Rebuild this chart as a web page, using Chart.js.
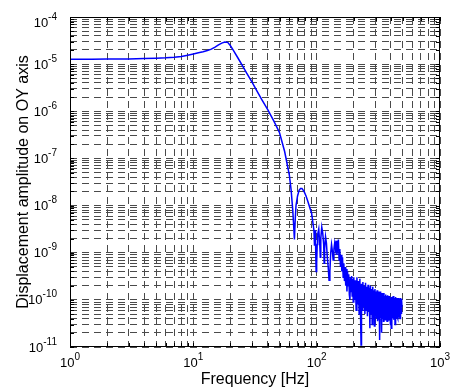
<!DOCTYPE html>
<html>
<head>
<meta charset="utf-8">
<script src="https://cdn.jsdelivr.net/npm/chart.js@4/dist/chart.umd.min.js"></script>
<style>
  html, body { margin: 0; padding: 0; background: #fff; }
  #wrap { width: 450px; height: 387px; }
</style>
</head>
<body>
<div id="wrap"><canvas id="chart" width="450" height="387"></canvas></div>
<script>
// ─── Data ──────────────────────────────────────────────────
const freqHz = [
  1, 1.5, 2, 3, 4, 5, 6, 7, 8, 9,
  10, 11, 12, 13, 14, 15, 16, 17, 18, 19,
  20, 21, 23, 25, 27, 30, 33, 36, 40, 45,
  50, 55, 58, 60, 62, 64, 65, 66, 67, 68,
  70, 72, 74, 76, 79, 82, 85, 88, 91, 93,
  95, 96, 97, 98, 99, 100, 101, 102, 104, 106,
  107, 108, 110, 112, 114, 115, 116, 118, 120, 122,
  124, 126, 128, 130, 132, 134, 136, 138, 140, 142,
  144, 146, 148, 150, 152, 154, 156, 158, 160, 162,
  164, 166, 168, 170, 172, 174, 176, 178, 180, 182,
  184, 186, 188, 190, 192, 194, 196, 198, 200, 203,
  206, 209, 212, 215, 218, 221, 224, 226, 229, 231,
  234, 237, 240, 243, 246, 249, 252, 255, 258, 261,
  264, 267, 270, 273, 276, 279, 282, 285, 288, 291,
  294, 297, 300, 303, 306, 309, 312, 315, 318, 321,
  324, 327, 330, 333, 336, 339, 342, 345, 348, 351,
  354, 357, 360, 363, 366, 369, 372, 375, 378, 381,
  384, 387, 390, 393, 396, 399, 402, 405, 408, 411,
  414, 417, 420, 423, 426, 429, 432, 435, 438, 441,
  444, 447, 450, 453, 456, 459, 462, 465, 468, 471,
  474, 477, 480, 483, 486, 489, 492
];

const ampOY = [
  1.27e-5, 1.27e-5, 1.28e-5, 1.29e-5, 1.31e-5, 1.33e-5, 1.36e-5, 1.40e-5, 1.46e-5, 1.54e-5,
  1.64e-5, 1.74e-5, 1.84e-5, 1.95e-5, 2.08e-5, 2.3e-5, 2.55e-5, 2.8e-5, 2.95e-5, 2.9e-5,
  2.45e-5, 2.0e-5, 1.35e-5, 9.3e-6, 6.5e-6, 4.1e-6, 2.6e-6, 1.75e-6, 1.1e-6, 6.2e-7,
  3.5e-7, 1.4e-7, 7e-8, 4.5e-8, 2.2e-8, 8e-9, 4e-9, 1.9e-9, 5e-9, 1e-8,
  1.6e-8, 2.1e-8, 2.3e-8, 2.3e-8, 2e-8, 1.6e-8, 1.2e-8, 9e-9, 6.9e-9, 4.5e-9,
  3e-9, 1.4e-9, 3e-9, 1.5e-9, 4e-10, 6e-10, 1.5e-9, 2.5e-9, 3.2e-9, 1.5e-9,
  8e-10, 2e-9, 3.5e-9, 2.6e-9, 1.5e-9, 6e-10, 1.2e-9, 2.2e-9, 1.6e-9, 8e-10,
  5e-10, 2.6e-10, 4e-10, 1e-9, 1.5e-9, 1.1e-9, 7e-10, 1.2e-9, 1.6e-9, 1.2e-9,
  1.8e-9, 9e-10, 1.4e-9, 1.9e-9, 7e-10, 1.2e-9, 5e-10, 9e-10, 4e-10, 8e-10,
  3e-10, 6e-10, 2.5e-10, 5e-10, 2e-10, 4.5e-10, 1.5e-10, 4e-10, 2e-10, 3.5e-10,
  1.3e-10, 1e-10, 3e-10, 1.5e-10, 3.2e-10, 1.2e-10, 2.8e-10, 9e-11, 3e-10, 1e-10,
  2.6e-10, 6e-11, 3e-10, 8e-11, 2.5e-10, 5e-11, 2.8e-10, 9e-11, 1.1e-11, 2.2e-10,
  6e-11, 2.4e-10, 7e-11, 2e-10, 5e-11, 2.3e-10, 6e-11, 1.9e-10, 4.5e-11, 2.1e-10,
  5.5e-11, 1.8e-10, 2.5e-11, 2e-10, 5e-11, 1.7e-10, 3e-11, 1.9e-10, 4e-11, 1.6e-10,
  2.8e-11, 1.7e-10, 4.5e-11, 1.5e-10, 4e-11, 1.6e-10, 3.5e-11, 1.5e-10, 3.8e-11, 1.4e-10,
  1.4e-11, 1.5e-10, 4e-11, 1.3e-10, 2e-11, 1.4e-10, 4e-11, 1.3e-10, 3.5e-11, 1.4e-10,
  4e-11, 1.2e-10, 3.8e-11, 1.3e-10, 4e-11, 1.2e-10, 3.5e-11, 1.25e-10, 4e-11, 1.2e-10,
  3.6e-11, 1.15e-10, 4e-11, 1.2e-10, 3e-11, 1.1e-10, 2.5e-11, 1.15e-10, 3.8e-11, 1.1e-10,
  4e-11, 1.2e-10, 3.8e-11, 1.05e-10, 4.5e-11, 1.1e-10, 3e-11, 1.15e-10, 4.2e-11, 1.05e-10,
  4e-11, 1.1e-10, 4.3e-11, 1.1e-10, 4e-11, 1.05e-10, 4.2e-11, 1.1e-10, 4.5e-11, 1.05e-10,
  4e-11, 1.1e-10, 4.5e-11, 1e-10, 5e-11, 1.05e-10, 7e-11
];

// decades shown on each axis and their exponent labels
const xDecades = [0, 1, 2, 3];
const xExpLabels = ['0', '1', '2', '3'];
const yDecades = [-11, -10, -9, -8, -7, -6, -5, -4];
const yExpLabels = ['-11', '-10', '-9', '-8', '-7', '-6', '-5', '-4'];

const FONT = '"Liberation Sans", Arial, sans-serif';
const GRID = '#4a4a4a';

// 1..9 ticks in every decade, closing with the last power of ten
function decadeTicks(decades) {
  const out = [];
  for (let i = 0; i < decades.length - 1; i++) {
    for (let k = 1; k <= 9; k++) out.push({ value: k * Math.pow(10, decades[i]) });
  }
  out.push({ value: Math.pow(10, decades[decades.length - 1]) });
  return out;
}

// ─── Box, inward ticks, labels (MATLAB look) ──────────────
const matlabFrame = {
  id: 'matlabFrame',
  afterDraw(chart) {
    const { ctx, chartArea: a, scales: { x, y } } = chart;
    ctx.save();
    ctx.strokeStyle = '#000';
    ctx.lineWidth = 1;
    ctx.setLineDash([]);
    ctx.beginPath();
    x.ticks.forEach(t => {
      const px = Math.round(x.getPixelForValue(t.value)) + 0.5;
      ctx.moveTo(px, a.bottom); ctx.lineTo(px, a.bottom - 4);
      ctx.moveTo(px, a.top); ctx.lineTo(px, a.top + 4);
    });
    y.ticks.forEach(t => {
      const py = Math.round(y.getPixelForValue(t.value)) + 0.5;
      ctx.moveTo(a.left, py); ctx.lineTo(a.left + 4, py);
      ctx.moveTo(a.right, py); ctx.lineTo(a.right - 4, py);
    });
    ctx.stroke();
    ctx.strokeRect(a.left + 0.5, a.top + 0.5, a.right - a.left - 1, a.bottom - a.top - 1);

    ctx.fillStyle = '#000';
    ctx.textBaseline = 'alphabetic';
    ctx.textAlign = 'left';
    // x tick labels
    xDecades.forEach((d, i) => {
      const px = x.getPixelForValue(Math.pow(10, d));
      ctx.font = '13px ' + FONT;
      const w1 = ctx.measureText('10').width;
      ctx.font = '10px ' + FONT;
      const w2 = ctx.measureText(xExpLabels[i]).width;
      const left = px - (w1 + w2) / 2;
      const base = a.bottom + 20;
      ctx.font = '13px ' + FONT;
      ctx.fillText('10', left, base);
      ctx.font = '10px ' + FONT;
      ctx.fillText(xExpLabels[i], left + w1, base - 7);
    });
    // y tick labels
    yDecades.forEach((d, i) => {
      const py = y.getPixelForValue(Math.pow(10, d));
      ctx.font = '13px ' + FONT;
      const w1 = ctx.measureText('10').width;
      ctx.font = '10px ' + FONT;
      const w2 = ctx.measureText(yExpLabels[i]).width;
      const right = a.left - 13;
      const base = Math.max(py + 4.5, a.top + 10);
      ctx.font = '13px ' + FONT;
      ctx.fillText('10', right - w2 - w1, base);
      ctx.font = '10px ' + FONT;
      ctx.fillText(yExpLabels[i], right - w2, base - 7);
    });
    // axis titles
    ctx.font = '16px ' + FONT;
    ctx.textAlign = 'center';
    ctx.fillText('Frequency [Hz]', (a.left + a.right) / 2, a.bottom + 36.5);
    ctx.translate(a.left - 42, (a.top + a.bottom) / 2);
    ctx.rotate(-Math.PI / 2);
    ctx.fillText('Displacement amplitude on OY axis', 0, 0);
    ctx.restore();
  }
};

new Chart(document.getElementById('chart'), {
  type: 'line',
  data: {
    datasets: [{
      data: freqHz.map((f, i) => ({ x: f, y: ampOY[i] })),
      borderColor: '#0000ff',
      borderWidth: 1.5,
      pointRadius: 0,
      fill: false,
      tension: 0
    }]
  },
  options: {
    responsive: false,
    animation: false,
    layout: { padding: { left: 70, top: 17, right: 10, bottom: 40 } },
    plugins: { legend: { display: false }, tooltip: { enabled: false } },
    scales: {
      x: {
        type: 'logarithmic',
        min: 1, max: 1000,
        afterBuildTicks: s => { s.ticks = decadeTicks(xDecades); },
        grid: { color: GRID, lineWidth: 1, drawTicks: false },
        border: { display: false, dash: [7, 5] },
        ticks: { display: false }
      },
      y: {
        type: 'logarithmic',
        min: 1e-11, max: 1e-4,
        afterBuildTicks: s => { s.ticks = decadeTicks(yDecades); },
        grid: { color: GRID, lineWidth: 1, drawTicks: false },
        border: { display: false, dash: [7, 5] },
        ticks: { display: false }
      }
    }
  },
  plugins: [matlabFrame]
});
</script>
</body>
</html>
